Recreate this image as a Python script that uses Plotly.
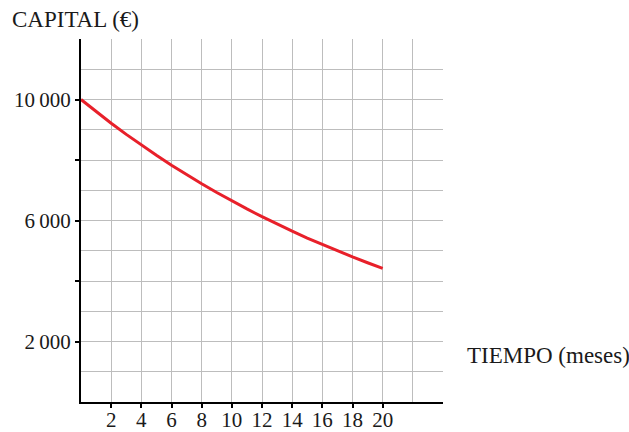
import plotly.graph_objects as go

# capital per month
months = list(range(0, 21))
capital = [10000, 9600, 9216, 8847, 8493, 8154, 7828, 7514, 7214, 6925, 6648,
           6382, 6127, 5882, 5647, 5421, 5204, 4996, 4796, 4604, 4420]

x_ticks = [2, 4, 6, 8, 10, 12, 14, 16, 18, 20]
x_labels = ["2", "4", "6", "8", "10", "12", "14", "16", "18", "20"]
y_ticks = [2000, 4000, 6000, 8000, 10000]
y_labels = ["2\u2009000", "", "6\u2009000", "", "10\u2009000"]

FONT = "Liberation Serif"
GRID = "#bdbdbd"
INK = "#1a1a1a"

fig = go.Figure()
fig.add_trace(go.Scatter(
    x=months, y=capital, mode="lines",
    line=dict(color="#e8202a", width=3),
    hoverinfo="skip", showlegend=False,
))

fig.update_layout(
    xaxis=dict(
        range=[0, 24], tickvals=x_ticks, ticktext=x_labels,
        ticks="outside", ticklen=4, tickwidth=2, tickcolor="black",
        ticklabelstandoff=-6,
        showline=True, linecolor="black", linewidth=2,
        showgrid=True, gridcolor=GRID, gridwidth=1.3,
        minor=dict(dtick=2, tick0=0, showgrid=True, gridcolor=GRID, gridwidth=1.3),
        zeroline=False, fixedrange=True, automargin=False,
        tickfont=dict(family=FONT, size=21, color=INK),
    ),
    yaxis=dict(
        range=[0, 12000], tickvals=y_ticks, ticktext=y_labels,
        ticks="outside", ticklen=4, tickwidth=2, tickcolor="black",
        showline=True, linecolor="black", linewidth=2,
        showgrid=True, gridcolor=GRID, gridwidth=1.3,
        minor=dict(dtick=1000, tick0=0, showgrid=True, gridcolor=GRID, gridwidth=1.3),
        zeroline=False, fixedrange=True, automargin=False,
        tickfont=dict(family=FONT, size=21, color=INK),
    ),
    # second pair of axes only to draw the inner half of the tick marks
    xaxis2=dict(
        overlaying="x", side="bottom", anchor="y2", range=[0, 24], tickvals=x_ticks,
        ticks="inside", ticklen=4, tickwidth=2, tickcolor="black",
        showticklabels=False, showgrid=False, zeroline=False, showline=False,
        fixedrange=True, automargin=False,
    ),
    yaxis2=dict(
        overlaying="y", side="left", anchor="x2", range=[0, 12000], tickvals=y_ticks,
        ticks="inside", ticklen=4, tickwidth=2, tickcolor="black",
        showticklabels=False, showgrid=False, zeroline=False, showline=False,
        fixedrange=True, automargin=False,
    ),
    width=629, height=432,
    margin=dict(l=81, r=186, t=39, b=30),
    paper_bgcolor="white", plot_bgcolor="white",
    showlegend=False,
)

fig.add_annotation(text="CAPITAL (€)", xref="paper", yref="paper", x=-0.196, y=1.055,
                   xanchor="left", yanchor="middle", showarrow=False,
                   font=dict(family=FONT, size=23, color=INK))
fig.add_annotation(text="TIEMPO (meses)", xref="paper", yref="paper", x=1.061, y=0.129,
                   xanchor="left", yanchor="middle", showarrow=False,
                   font=dict(family=FONT, size=23, color=INK))

# drop the page's default body margin so the figure sits at the window's corner
fig.write_html("out.html", config={"displayModeBar": False},
               post_script="document.body.style.margin='0';")
